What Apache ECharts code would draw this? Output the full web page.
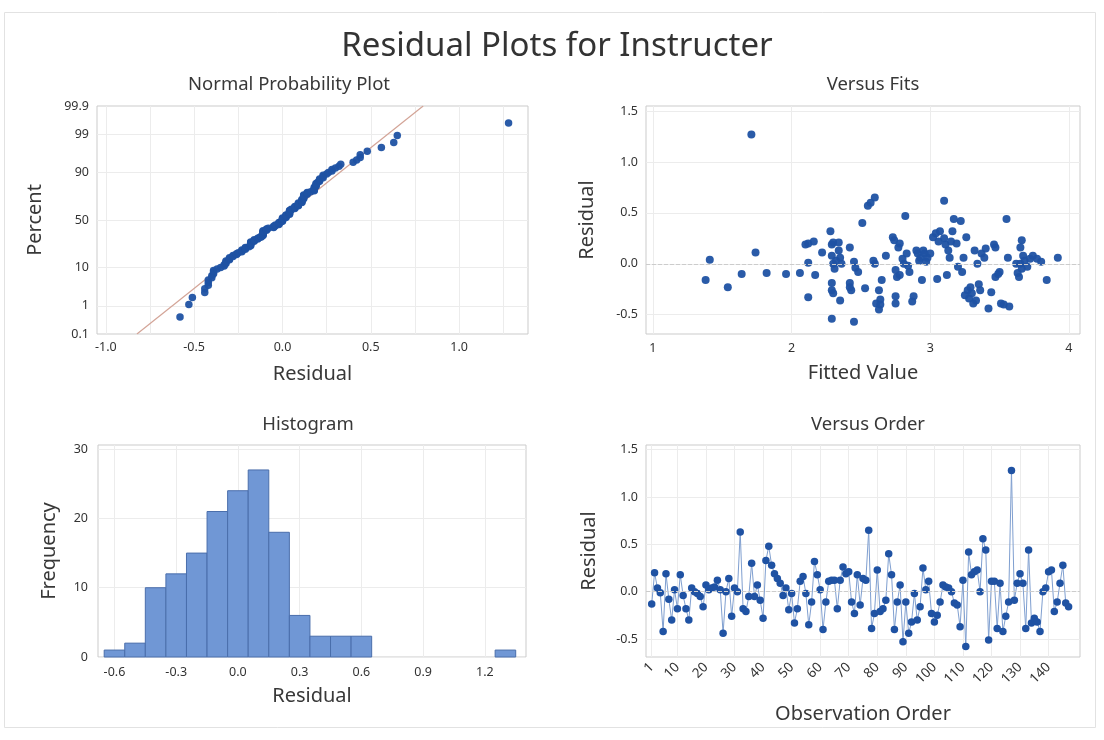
<!DOCTYPE html>
<html>
<head>
<meta charset="utf-8">
<script src="https://cdn.jsdelivr.net/npm/echarts@6/dist/echarts.min.js"></script>
<style>html,body{margin:0;padding:0;background:#fff}#c{width:1104px;height:740px}</style>
</head>
<body>
<div id="c"></div>
<script>
// ---------------- DATA ----------------
// Residuals in observation order (read from "Versus Order")
const orderResid = [
 -0.13, 0.20, 0.04, -0.01, -0.42, 0.19, -0.08, -0.30, 0.02, -0.18, 0.18, -0.04, -0.18, -0.30, 0.04, 0.00, -0.02, -0.05, -0.16, 0.07,
 0.02, 0.04, 0.05, 0.12, 0.02, -0.44, 0.00, 0.14, -0.26, 0.04, 0.00, 0.63, -0.18, -0.21, -0.05, 0.30, -0.05, 0.07, -0.09, -0.28,
 0.33, 0.48, 0.28, 0.19, 0.14, 0.09, -0.04, 0.04, -0.19, -0.02, -0.33, -0.18, 0.11, 0.16, -0.02, -0.35, -0.11, 0.32, 0.18, 0.02,
 -0.40, -0.11, 0.11, 0.12, 0.12, -0.18, 0.12, 0.26, 0.19, 0.21, -0.11, -0.23, 0.18, -0.14, 0.14, 0.12, 0.65, -0.39, -0.23, 0.23,
 -0.21, -0.18, -0.09, 0.40, 0.18, -0.40, -0.11, 0.07, -0.53, -0.11, -0.44, -0.32, -0.02, -0.30, -0.16, 0.25, 0.02, 0.11, -0.23, -0.32,
 -0.25, -0.11, 0.07, 0.05, 0.04, 0.00, -0.12, -0.14, -0.37, 0.12, -0.58, 0.42, 0.18, 0.21, 0.23, 0.00, 0.56, 0.44, -0.51, 0.11,
 0.11, -0.39, 0.09, -0.42, -0.26, -0.11, 1.28, -0.09, 0.09, 0.19, 0.09, -0.39, 0.44, -0.33, -0.28, -0.32, -0.42, 0.00, 0.04, 0.21,
 0.23, -0.21, -0.11, 0.09, 0.28, -0.12, -0.16
];
// Versus Fits (fitted value, residual)
const fitValues = [
 1.38,1.41,1.54,1.64,1.71,1.74,1.82,1.96,2.06,2.10,2.12,2.12,2.16,2.17,2.12,2.22,2.28,2.29,2.30,2.29,
 2.30,2.31,2.29,2.29,2.30,2.29,2.34,2.34,2.35,2.35,2.36,2.32,2.42,2.42,2.43,2.42,2.45,2.46,2.45,2.48,
 2.51,2.53,2.55,2.57,2.60,2.60,2.59,2.61,2.65,2.63,2.63,2.64,2.64,2.68,2.73,2.74,2.75,2.75,2.75,2.76,
 2.77,2.78,2.78,2.82,2.81,2.80,2.83,2.85,2.84,2.87,2.88,2.90,2.91,2.92,2.94,2.93,2.95,2.96,2.97,2.98,
 3.00,3.02,3.04,3.05,3.07,3.06,3.10,3.11,3.10,3.12,3.14,3.13,3.16,3.17,3.15,3.20,3.19,3.22,3.24,3.26,
 3.23,3.25,3.27,3.29,3.28,3.30,3.31,3.32,3.33,3.34,3.35,3.36,3.37,3.39,3.40,3.42,3.44,3.46,3.47,3.47,
 3.49,3.50,3.51,3.53,3.55,3.56,3.57,3.62,3.64,3.63,3.65,3.66,3.65,3.67,3.66,3.68,3.70,3.72,3.74,3.77,
 3.80,3.84,3.92
];
const fitResid = [
 -0.16,0.04,-0.23,-0.10,1.27,0.11,-0.09,-0.10,-0.09,0.19,0.20,0.01,0.22,-0.11,-0.33,0.11,0.32,0.19,0.21,0.08,
 0.00,-0.05,-0.19,-0.26,-0.29,-0.54,0.21,0.13,0.06,-0.36,0.00,0.03,0.16,-0.19,-0.26,-0.23,0.02,-0.04,-0.57,-0.08,
 0.40,-0.24,0.57,0.60,0.65,0.00,0.03,-0.39,-0.16,-0.26,-0.45,-0.35,-0.40,0.08,0.26,0.23,-0.06,-0.32,-0.39,-0.13,
 0.16,-0.11,0.20,0.47,0.00,0.05,0.10,-0.08,-0.02,-0.37,-0.32,0.13,0.10,0.03,-0.16,0.06,0.13,0.10,0.02,0.06,
 0.10,0.26,0.30,-0.15,0.32,0.22,0.62,0.19,0.25,-0.11,0.06,0.13,0.32,0.44,0.22,-0.03,0.20,0.42,0.06,0.26,
 -0.08,-0.31,-0.26,-0.23,-0.34,-0.29,-0.39,0.13,-0.36,0.00,-0.20,-0.26,0.10,0.06,0.15,-0.44,-0.28,0.19,0.16,-0.13,
 -0.10,-0.08,-0.39,-0.40,0.44,0.06,-0.42,0.00,-0.13,-0.09,0.00,0.23,0.16,0.08,-0.05,0.03,-0.03,0.05,0.08,0.05,
 0.02,-0.16,0.06
];
// Histogram bins (centres) and frequencies
const binCenters = [-0.6,-0.5,-0.4,-0.3,-0.2,-0.1,0.0,0.1,0.2,0.3,0.4,0.5,0.6,0.7,0.8,0.9,1.0,1.1,1.2,1.3];
const binCounts  = [1,2,10,12,15,21,24,27,18,6,3,3,3,0,0,0,0,0,0,1];
const binWidth = 0.1;
// Tick labels
const nppXTicks = [-1.0,-0.5,0.0,0.5,1.0];
const nppXGrid = [-1.0,-0.75,-0.5,-0.25,0,0.25,0.5,0.75,1.0,1.25];
const nppPctLabels = [0.1,1,10,50,90,99,99.9];
const nppPctGrid = [1,10,50,90,99];
const fitXTicks = [1,2,3,4];
const residTicks = [-0.5,0.0,0.5,1.0,1.5];
const histXTicks = [-0.6,-0.3,0.0,0.3,0.6,0.9,1.2];
const histYTicks = [0,10,20,30];
const orderTicks = [1,10,20,30,40,50,60,70,80,90,100,110,120,130,140];

// ---------------- helpers ----------------
function probit(p){
 const a=[-3.969683028665376e+01,2.209460984245205e+02,-2.759285104469687e+02,1.383577518672690e+02,-3.066479806614716e+01,2.506628277459239e+00];
 const b=[-5.447609879822406e+01,1.615858368580409e+02,-1.556989798598866e+02,6.680131188771972e+01,-1.328068155288572e+01];
 const c=[-7.784894002430293e-03,-3.223964580411365e-01,-2.400758277161838e+00,-2.549732539343734e+00,4.374664141464968e+00,2.938163982698783e+00];
 const d=[7.784695709041462e-03,3.224671290700398e-01,2.445134137142996e+00,3.754408661907416e+00];
 const pl=0.02425, ph=1-pl; let q,r;
 if(p<pl){q=Math.sqrt(-2*Math.log(p));return (((((c[0]*q+c[1])*q+c[2])*q+c[3])*q+c[4])*q+c[5])/((((d[0]*q+d[1])*q+d[2])*q+d[3])*q+1);}
 if(p<=ph){q=p-0.5;r=q*q;return (((((a[0]*r+a[1])*r+a[2])*r+a[3])*r+a[4])*r+a[5])*q/(((((b[0]*r+b[1])*r+b[2])*r+b[3])*r+b[4])*r+1);}
 q=Math.sqrt(-2*Math.log(1-p));return -(((((c[0]*q+c[1])*q+c[2])*q+c[3])*q+c[4])*q+c[5])/((((d[0]*q+d[1])*q+d[2])*q+d[3])*q+1);
}
const pctToZ = pct => probit(pct/100);
const n = orderResid.length;
const sorted = orderResid.slice().sort((x,y)=>x-y);
const nppData = sorted.map((v,i)=>[v, probit((i+1-0.375)/(n+0.25))]);
const mean = orderResid.reduce((s,v)=>s+v,0)/n;
const sd = Math.sqrt(orderResid.reduce((s,v)=>s+(v-mean)*(v-mean),0)/(n-1));
const zMin = pctToZ(0.1) - 1e-6, zMax = pctToZ(99.9) + 1e-6;
const nppLine = [[mean+sd*zMin, zMin],[mean+sd*zMax, zMax]];
const fitsData = fitValues.map((f,i)=>[f, fitResid[i]]);
const orderData = orderResid.map((r,i)=>[i+1, r]);
const histData = binCenters.map((c,i)=>[c, binCounts[i]]).filter(d=>d[1]>0);

// ---------------- styling ----------------
const FONT = "'Noto Sans', 'Open Sans', sans-serif";
const txt = '#383838';
const gridCol = '#ececec';
const dot = '#1f52a3';
const labelStyle = {color:'#333333', fontSize:12.5, fontFamily:FONT};
const nameStyle = {color:txt, fontSize:20, fontFamily:FONT};
function fmt1(v){ return (Math.abs(v)<1e-9?0:v).toFixed(1); }
function pctLabel(v){
 let best=nppPctLabels[0], bd=1e9;
 nppPctLabels.forEach(p=>{ const d=Math.abs(pctToZ(p)-v); if(d<bd){bd=d;best=p;} });
 return String(best);
}

function axis(opt){
 return Object.assign({
  type:'value', scale:false,
  axisLine:{show:false}, axisTick:{show:false},
  splitLine:{show:true, lineStyle:{color:gridCol, width:1}},
  nameLocation:'middle', nameTextStyle:nameStyle
 }, opt);
}

const chart = echarts.init(document.getElementById('c'), null, {renderer:'canvas'});
const gridBase = {show:true, borderColor:'#cbcbcb', borderWidth:1, backgroundColor:'#fff', containLabel:false, outerBoundsMode:'none'};
const subTitle = {fontSize:18.5, fontWeight:'normal', color:txt, fontFamily:FONT};
const option = {
 animation:false,
 backgroundColor:'#fff',
 textStyle:{fontFamily:FONT},
 title:[
  {text:'Residual Plots for Instructer', left:552, top:25, textAlign:'center', textStyle:{fontSize:33, fontWeight:'normal', color:'#333333', fontFamily:FONT}},
  {text:'Normal Probability Plot', left:284, top:70, textAlign:'center', textStyle:subTitle},
  {text:'Versus Fits', left:868, top:70, textAlign:'center', textStyle:subTitle},
  {text:'Histogram', left:303, top:410, textAlign:'center', textStyle:subTitle},
  {text:'Versus Order', left:863, top:410, textAlign:'center', textStyle:subTitle}
 ],
 graphic:[{type:'rect', shape:{x:4.5, y:12.5, width:1091, height:715}, style:{fill:'none', stroke:'#e2e2e2', lineWidth:1}, silent:true, z:-10}],
 grid:[
  Object.assign({left:97, top:106, width:431, height:228}, gridBase),
  Object.assign({left:646, top:106, width:434, height:228}, gridBase),
  Object.assign({left:98, top:445, width:428, height:212}, gridBase),
  Object.assign({left:646, top:445, width:434, height:212}, gridBase)
 ],
 xAxis:[
  axis({gridIndex:0, min:-1.05, max:1.39, name:'Residual', nameGap:30,
   axisTick:{show:false, customValues:nppXGrid},
   axisLabel:Object.assign({customValues:nppXTicks, formatter:fmt1, margin:7}, labelStyle)}),
  axis({gridIndex:1, min:0.95, max:4.08, name:'Fitted Value', nameGap:29,
   axisTick:{show:false, customValues:fitXTicks},
   axisLabel:Object.assign({customValues:fitXTicks, formatter:v=>String(Math.round(v)), margin:8}, labelStyle)}),
  axis({gridIndex:2, min:-0.68, max:1.40, name:'Residual', nameGap:29,
   axisTick:{show:false, customValues:histXTicks},
   axisLabel:Object.assign({customValues:histXTicks, formatter:fmt1, margin:9}, labelStyle)}),
  axis({gridIndex:3, min:-1, max:151, name:'Observation Order', nameGap:47,
   axisTick:{show:false, customValues:orderTicks},
   axisLabel:Object.assign({}, labelStyle, {customValues:orderTicks, rotate:45, margin:8, fontSize:13.5})})
 ],
 yAxis:[
  axis({gridIndex:0, min:zMin, max:zMax, name:'Percent', nameGap:52,
   axisTick:{show:false, customValues:nppPctGrid.map(pctToZ)},
   axisLabel:Object.assign({customValues:nppPctLabels.map(pctToZ), margin:8, formatter:pctLabel}, labelStyle)}),
  axis({gridIndex:1, min:-0.69, max:1.55, name:'Residual', nameGap:49,
   axisTick:{show:false, customValues:residTicks},
   axisLabel:Object.assign({customValues:residTicks, formatter:fmt1, margin:8}, labelStyle)}),
  axis({gridIndex:2, min:0, max:30.6, name:'Frequency', nameGap:39,
   axisTick:{show:false, customValues:histYTicks},
   axisLabel:Object.assign({customValues:histYTicks, margin:10}, labelStyle)}),
  axis({gridIndex:3, min:-0.69, max:1.55, name:'Residual', nameGap:47,
   axisTick:{show:false, customValues:residTicks},
   axisLabel:Object.assign({customValues:residTicks, formatter:fmt1, margin:8}, labelStyle)})
 ],
 series:[
  {type:'line', xAxisIndex:0, yAxisIndex:0, data:nppLine, showSymbol:false, symbol:'none',
   lineStyle:{color:'#d3a497', width:1.2}, z:2, silent:true},
  {type:'scatter', xAxisIndex:0, yAxisIndex:0, data:nppData, symbolSize:7.5,
   itemStyle:{color:dot, opacity:0.95}, z:3},
  {type:'scatter', xAxisIndex:1, yAxisIndex:1, data:fitsData, symbolSize:8,
   itemStyle:{color:dot, opacity:0.95}, z:3,
   markLine:{silent:true, symbol:'none', label:{show:false}, lineStyle:{color:'#cccccc', type:'dashed', width:1}, data:[{yAxis:0}]}},
  {type:'custom', xAxisIndex:2, yAxisIndex:2, data:histData, encode:{x:0, y:1},
   renderItem:function(params, api){
     const c = api.value(0), f = api.value(1);
     const p0 = api.coord([c-binWidth/2, 0]);
     const p1 = api.coord([c+binWidth/2, f]);
     return {type:'rect', shape:{x:p0[0], y:p1[1], width:p1[0]-p0[0], height:p0[1]-p1[1]},
       style:{fill:'#7097d5', stroke:'#4a6eab', lineWidth:1}};
   }},
  {type:'line', xAxisIndex:3, yAxisIndex:3, data:orderData, showSymbol:true, symbol:'circle', symbolSize:7.5,
   lineStyle:{color:'#7f9fd0', width:1}, itemStyle:{color:dot}, z:3,
   markLine:{silent:true, symbol:'none', label:{show:false}, lineStyle:{color:'#cccccc', type:'dashed', width:1}, data:[{yAxis:0}]}}
 ]
};
chart.setOption(option);
</script>
</body>
</html>
